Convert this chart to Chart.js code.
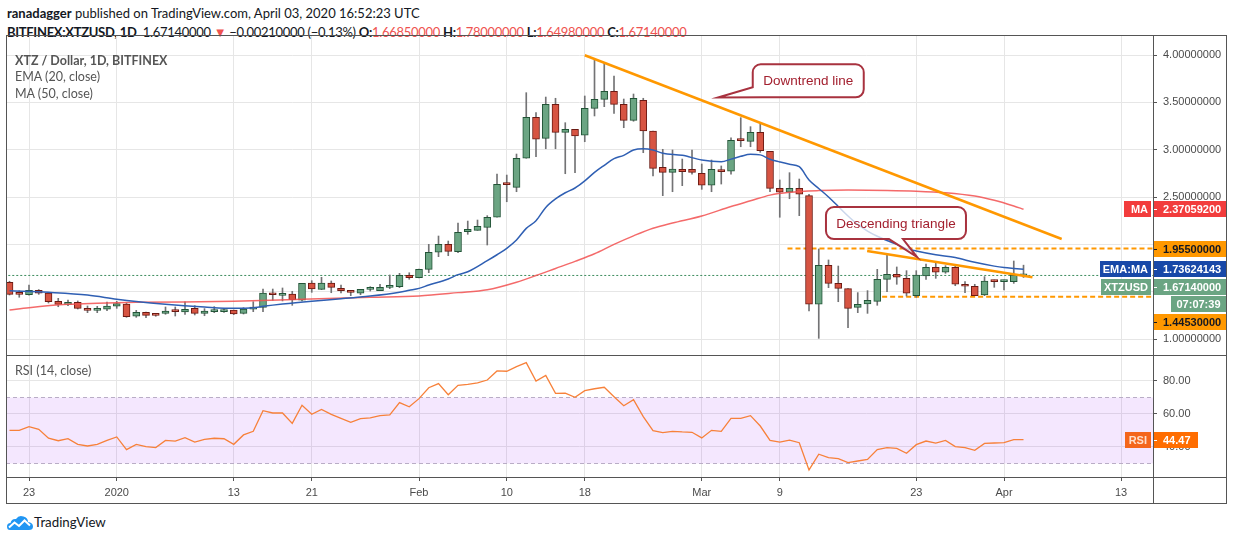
<!DOCTYPE html>
<html>
<head>
<meta charset="utf-8">
<script src="https://cdn.jsdelivr.net/npm/chart.js@4.4.0/dist/chart.umd.min.js"></script>
<style>
body { margin:0; width:1234px; height:541px; background:#fff; position:relative; overflow:hidden; font-family:Lato, "Liberation Sans", sans-serif; }
.abs { position:absolute; }
.hdr { position:absolute; left:7px; font-size:13px; color:#131722; white-space:nowrap; }
.red { color:#ef5350; }
.leg { position:absolute; left:15px; font-size:12.5px; color:#555; white-space:nowrap; }
.ln { position:absolute; background:#555; }
</style>
</head>
<body>
<div class="hdr" style="top:5px"><b>ranadagger</b> published on TradingView.com, April 03, 2020 16:52:23 UTC</div>
<div class="hdr" style="top:24px;letter-spacing:-0.3px"><b>BITFINEX:XTZUSD, 1D</b>&nbsp; 1.67140000 <span class="red">▼</span> −0.00210000 (−0.13%) <b>O:</b><span class="red">1.66850000</span> <b>H:</b><span class="red">1.78000000</span> <b>L:</b><span class="red">1.64980000</span> <b>C:</b><span class="red">1.67140000</span></div>

<canvas id="main" class="abs" width="1221" height="320" style="left:6px;top:35px"></canvas>
<canvas id="rsi" class="abs" width="1221" height="149" style="left:6px;top:355px"></canvas>

<div class="leg" style="top:53px;font-weight:bold">XTZ / Dollar, 1D, BITFINEX</div>
<div class="leg" style="top:69px">EMA (20, close)</div>
<div class="leg" style="top:86px">MA (50, close)</div>
<div class="leg" style="top:363px">RSI (14, close)</div>

<div class="ln" style="left:6px;top:35px;width:1221px;height:1px"></div>
<div class="ln" style="left:6px;top:355px;width:1221px;height:1px"></div>
<div class="ln" style="left:6px;top:477px;width:1221px;height:1px"></div>
<div class="ln" style="left:6px;top:503px;width:1221px;height:1px"></div>
<div class="ln" style="left:6px;top:35px;width:1px;height:469px"></div>
<div class="ln" style="left:1153px;top:35px;width:1px;height:469px"></div>
<div class="ln" style="left:1226px;top:35px;width:1px;height:469px"></div>

<svg class="abs" style="left:7px;top:514px" width="26" height="17" viewBox="0 0 26 17">
  <path d="M3 16 Q0 16 0 12.5 Q0 9 3.5 9 Q4.5 4.5 9 5 Q12 0.5 16.5 2.5 Q21 3.5 21 8 Q26 8.5 26 12.5 Q26 16 22 16 Z" fill="#2196f3"/>
  <polyline points="2,13.5 7.5,8.5 12,12 17.5,6.5 23,11.5" fill="none" stroke="#fff" stroke-width="2"/>
</svg>
<div class="hdr" style="left:34px;top:514px;font-size:13.3px">TradingView</div>

<script>
// daily candles, BITFINEX:XTZUSD
const dates = [
  '2019-12-21','2019-12-22','2019-12-23','2019-12-24','2019-12-25','2019-12-26','2019-12-27','2019-12-28','2019-12-29','2019-12-30','2019-12-31',
  '2020-01-01','2020-01-02','2020-01-03','2020-01-04','2020-01-05','2020-01-06','2020-01-07','2020-01-08','2020-01-09','2020-01-10',
  '2020-01-11','2020-01-12','2020-01-13','2020-01-14','2020-01-15','2020-01-16','2020-01-17','2020-01-18','2020-01-19','2020-01-20',
  '2020-01-21','2020-01-22','2020-01-23','2020-01-24','2020-01-25','2020-01-26','2020-01-27','2020-01-28','2020-01-29','2020-01-30','2020-01-31',
  '2020-02-01','2020-02-02','2020-02-03','2020-02-04','2020-02-05','2020-02-06','2020-02-07','2020-02-08','2020-02-09','2020-02-10',
  '2020-02-11','2020-02-12','2020-02-13','2020-02-14','2020-02-15','2020-02-16','2020-02-17','2020-02-18','2020-02-19','2020-02-20',
  '2020-02-21','2020-02-22','2020-02-23','2020-02-24','2020-02-25','2020-02-26','2020-02-27','2020-02-28','2020-02-29',
  '2020-03-01','2020-03-02','2020-03-03','2020-03-04','2020-03-05','2020-03-06','2020-03-07','2020-03-08','2020-03-09','2020-03-10',
  '2020-03-11','2020-03-12','2020-03-13','2020-03-14','2020-03-15','2020-03-16','2020-03-17','2020-03-18','2020-03-19','2020-03-20',
  '2020-03-21','2020-03-22','2020-03-23','2020-03-24','2020-03-25','2020-03-26','2020-03-27','2020-03-28','2020-03-29','2020-03-30','2020-03-31',
  '2020-04-01','2020-04-02','2020-04-03'
];
const opens = [
  1.599,1.486,1.468,1.515,1.486,1.398,1.366,1.387,1.324,1.303,1.314,
  1.346,1.370,1.240,1.282,1.257,1.271,1.296,1.285,1.324,1.271,1.289,1.289,1.306,1.271,1.314,1.335,1.486,1.461,1.475,1.409,
  1.592,1.525,1.592,1.535,1.507,1.483,1.525,1.511,1.546,1.553,1.673,
  1.648,1.736,1.916,2.000,1.923,2.134,2.148,2.180,2.286,2.645,2.602,2.909,3.342,3.120,3.479,3.183,3.215,3.152,3.437,3.532,
  3.617,3.479,3.310,3.521,3.197,2.814,2.761,2.793,2.793,
  2.750,2.624,2.782,2.772,3.110,3.088,3.183,2.983,2.592,2.550,2.592,2.514,1.367,1.779,1.588,1.532,1.335,1.370,1.398,1.630,
  1.683,1.641,1.458,1.666,1.757,1.705,1.757,1.578,1.557,1.465,1.623,
  1.606,1.606,1.6685
];
const highs = [
  1.610,1.510,1.570,1.522,1.493,1.430,1.412,1.402,1.349,1.345,1.391,
  1.398,1.380,1.303,1.285,1.268,1.338,1.338,1.394,1.352,1.321,1.342,1.321,1.306,1.331,1.394,1.528,1.528,1.539,1.504,1.589,
  1.616,1.652,1.613,1.570,1.507,1.525,1.553,1.578,1.676,1.694,1.700,
  1.740,2.000,2.088,2.035,2.225,2.246,2.257,2.303,2.743,2.732,2.954,3.602,3.391,3.556,3.543,3.285,3.215,3.567,3.947,3.912,
  3.778,3.535,3.588,3.543,3.197,3.004,2.997,2.901,2.997,
  2.849,2.891,2.828,3.126,3.338,3.243,3.271,2.983,2.680,2.757,2.690,2.529,1.951,1.835,1.771,1.532,1.490,1.511,1.736,1.887,
  1.761,1.722,1.722,1.792,1.800,1.775,1.775,1.606,1.578,1.659,1.623,
  1.623,1.824,1.780
];
const lows = [
  1.465,1.441,1.462,1.472,1.380,1.341,1.352,1.317,1.278,1.278,1.299,
  1.324,1.229,1.229,1.225,1.240,1.261,1.243,1.261,1.254,1.246,1.278,1.282,1.257,1.264,1.289,1.289,1.409,1.402,1.356,1.402,
  1.493,1.521,1.489,1.486,1.458,1.468,1.507,1.511,1.532,1.542,1.631,
  1.645,1.701,1.870,1.880,1.912,2.106,2.148,1.993,2.286,2.450,2.556,2.909,2.926,3.010,3.010,2.746,2.757,3.084,3.356,3.454,
  3.384,3.232,3.300,2.968,2.722,2.514,2.556,2.620,2.740,
  2.581,2.556,2.637,2.740,3.031,3.031,2.972,2.556,2.286,2.482,2.303,1.296,1.007,1.542,1.394,1.120,1.278,1.271,1.356,1.500,
  1.578,1.454,1.441,1.630,1.641,1.694,1.563,1.489,1.458,1.458,1.546,
  1.518,1.588,1.6498
];
const closes = [
  1.472,1.472,1.515,1.483,1.394,1.366,1.387,1.324,1.303,1.324,1.349,
  1.373,1.236,1.282,1.250,1.250,1.296,1.289,1.314,1.271,1.296,1.306,1.306,1.264,1.317,1.338,1.486,1.468,1.475,1.415,1.589,
  1.528,1.592,1.546,1.511,1.493,1.525,1.528,1.546,1.560,1.673,1.648,
  1.736,1.916,2.000,1.926,2.127,2.159,2.190,2.286,2.634,2.630,2.909,3.342,3.110,3.479,3.183,3.215,3.144,3.437,3.532,3.617,
  3.479,3.310,3.543,3.197,2.803,2.761,2.796,2.768,2.761,
  2.624,2.793,2.768,3.099,3.095,3.183,2.989,2.592,2.550,2.592,2.529,1.367,1.779,1.588,1.535,1.324,1.367,1.409,1.630,1.683,
  1.652,1.483,1.676,1.757,1.705,1.757,1.578,1.557,1.458,1.613,1.606,
  1.623,1.676,1.6714
];

// EMA (20)
const emaDates = [
  '2019-12-21','2019-12-25','2019-12-29','2020-01-01','2020-01-03','2020-01-06','2020-01-10','2020-01-13','2020-01-15','2020-01-16',
  '2020-01-18','2020-01-21','2020-01-24','2020-01-27','2020-01-30','2020-01-31','2020-02-01','2020-02-02','2020-02-04','2020-02-05',
  '2020-02-06','2020-02-08','2020-02-09','2020-02-10','2020-02-11','2020-02-12','2020-02-13','2020-02-14','2020-02-15','2020-02-16',
  '2020-02-17','2020-02-18','2020-02-19','2020-02-20','2020-02-21','2020-02-22','2020-02-23','2020-02-24','2020-02-25','2020-02-26',
  '2020-02-28','2020-03-01','2020-03-03','2020-03-04','2020-03-05','2020-03-06','2020-03-07','2020-03-08','2020-03-09','2020-03-10',
  '2020-03-11','2020-03-12','2020-03-13','2020-03-14','2020-03-15','2020-03-16','2020-03-17','2020-03-18','2020-03-19','2020-03-20',
  '2020-03-21','2020-03-22','2020-03-23','2020-03-25','2020-03-27','2020-03-29','2020-03-31','2020-04-01','2020-04-02','2020-04-03'
];
const emaValues = [
  1.510,1.493,1.465,1.420,1.395,1.366,1.338,1.324,1.330,1.345,
  1.370,1.400,1.425,1.454,1.495,1.515,1.535,1.570,1.634,1.680,
  1.710,1.827,1.890,1.958,2.046,2.169,2.250,2.390,2.480,2.545,
  2.595,2.670,2.760,2.835,2.905,2.940,2.997,3.010,2.997,2.962,
  2.940,2.891,2.873,2.900,2.930,2.951,2.945,2.898,2.870,2.845,
  2.820,2.680,2.590,2.500,2.400,2.300,2.210,2.140,2.085,2.040,
  2.000,1.955,1.930,1.890,1.860,1.810,1.770,1.755,1.745,1.73624143
];

// MA (50)
const maDates = [
  '2019-12-21','2019-12-23','2019-12-27','2019-12-30','2020-01-03','2020-01-13','2020-01-20','2020-01-27','2020-02-01','2020-02-05',
  '2020-02-08','2020-02-11','2020-02-13','2020-02-15','2020-02-17','2020-02-19','2020-02-21','2020-02-23','2020-02-25','2020-02-27',
  '2020-03-01','2020-03-04','2020-03-06','2020-03-08','2020-03-10','2020-03-13','2020-03-16','2020-03-20','2020-03-23','2020-03-26',
  '2020-03-29','2020-03-31','2020-04-02','2020-04-03'
];
const maValues = [
  1.306,1.331,1.366,1.377,1.387,1.398,1.419,1.440,1.455,1.490,
  1.520,1.600,1.670,1.745,1.820,1.900,2.000,2.090,2.170,2.225,
  2.300,2.400,2.460,2.520,2.550,2.568,2.574,2.570,2.562,2.545,
  2.510,2.465,2.405,2.370592
];

// RSI (14), one value per candle
const rsiValues = [
  50.1,50.1,52.3,50.7,45.3,43.8,45.0,41.6,40.6,41.6,44.0,
  46.1,38.4,41.6,40.2,39.6,44.0,43.6,45.7,43.0,44.6,45.3,45.0,41.6,47.3,49.5,62.0,60.6,60.6,54.3,65.3,
  59.8,62.8,59.8,57.4,55.0,57.2,57.6,59.0,59.4,66.9,64.4,
  69.3,75.9,78.4,71.7,77.4,78.0,78.8,80.6,86.1,85.9,88.7,91.1,80.0,83.4,72.5,72.7,70.1,74.1,75.3,76.2,
  70.5,65.0,68.7,58.4,49.9,48.7,49.5,49.1,48.9,
  45.5,50.1,49.5,57.4,57.4,59.0,52.7,44.0,43.0,44.2,42.6,26.1,35.6,33.5,32.9,30.5,31.5,32.5,38.4,39.6,
  39.2,36.2,41.4,43.6,42.4,44.0,40.2,39.6,38.0,42.2,42.4,
  42.6,44.4,44.47
];

const tickDates = ['2019-12-23','2020-01-01','2020-01-13','2020-01-21','2020-02-01','2020-02-10','2020-02-18','2020-03-01','2020-03-09','2020-03-23','2020-04-01','2020-04-13'];
const tickLabels = ['23','2020','13','21','Feb','10','18','Mar','9','23','Apr','13'];
const priceTicks = [1, 1.5, 2, 2.5, 3, 3.5, 4];
const rsiTicks = [40, 60, 80];

// drawn levels / trend lines
const resistance = 1.955;
const support = 1.4453;
const downtrendDates = ['2020-02-18T00:00:00Z', '2020-04-06T22:00:00Z'];
const downtrendPrices = [3.997, 2.056];
const triangleDates = ['2020-03-17T23:00:00Z', '2020-04-03T22:00:00Z'];
const trianglePrices = [1.930, 1.652];
const resistanceFrom = '2020-03-09T19:00:00Z';
const supportFrom = '2020-03-19T12:00:00Z';
const countdown = '07:07:39';

/////////////////////////////////////////////////////////////////
const DAY0 = Date.parse('2019-12-23T00:00:00Z');
function dayNum(s) {
  return (Date.parse(s.length === 10 ? s + 'T00:00:00Z' : s) - DAY0) / 86400000;
}
const X = dates.map(dayNum);
const xMin = -2.359, xMax = 115.28;
const xEnd = '2020-04-25';

Chart.defaults.font.family = '"Liberation Sans", Arial, sans-serif';
Chart.defaults.font.size = 11;
Chart.defaults.color = '#4a4a4a';

const upFill = '#6ba583', upLine = '#225437';
const dnFill = '#d75442', dnLine = '#6b1a13';
const isUp = closes.map((c, i) => c >= opens[i]);

// no extra label padding around the plot area
function noPad(s) {
  s.paddingTop = 0; s.paddingBottom = 0; s.paddingLeft = 0; s.paddingRight = 0;
}

function xScale(showLabels) {
  return {
    type: 'linear', min: xMin, max: xMax, offset: false,
    afterBuildTicks: s => { s.ticks = tickDates.map(d => ({ value: dayNum(d) })); },
    afterFit: s => { s.height = showLabels ? 27 : 0; noPad(s); },
    grid: { color: '#e6e6e6', drawTicks: showLabels, tickLength: 4, tickColor: '#555', offset: false },
    border: { display: false },
    ticks: { display: showLabels, autoSkip: false, maxRotation: 0, padding: 5,
             callback: (v, i) => tickLabels[i] }
  };
}

function pts(ds, vs) { return ds.map((d, i) => ({ x: dayNum(d), y: vs[i] })); }

/////////////////////////////////////////////////////////////////
// callouts and price-axis labels
const overlayMain = {
  id: 'overlayMain',
  afterDraw(chart) {
    const ctx = chart.ctx, xs = chart.scales.x, ys = chart.scales.y, area = chart.chartArea;
    ctx.save();

    const callouts = [
      { text: 'Downtrend line', at: '2020-03-06T05:30:00Z', top: 3.902, w: 111, h: 33,
        tipAt: '2020-03-02T16:00:00Z', tip: 3.551, side: 'left' },
      { text: 'Descending triangle', at: '2020-03-13T17:45:00Z', top: 2.394, w: 140, h: 32,
        tipAt: '2020-03-23T02:00:00Z', tip: 1.866, side: 'bottom', b1: 63, b2: 77 }
    ];
    callouts.forEach(c => {
      const L = xs.getPixelForValue(dayNum(c.at)), T = ys.getPixelForValue(c.top);
      const R = L + c.w, B = T + c.h, r = 8;
      const tx = xs.getPixelForValue(dayNum(c.tipAt)), ty = ys.getPixelForValue(c.tip);
      ctx.beginPath();
      ctx.moveTo(L + r, T);
      ctx.lineTo(R - r, T); ctx.arcTo(R, T, R, T + r, r);
      ctx.lineTo(R, B - r); ctx.arcTo(R, B, R - r, B, r);
      if (c.side === 'bottom') {
        ctx.lineTo(L + c.b2, B); ctx.lineTo(tx, ty); ctx.lineTo(L + c.b1, B);
        ctx.lineTo(L + r, B); ctx.arcTo(L, B, L, B - r, r);
      } else {
        ctx.lineTo(L + 10, B); ctx.lineTo(tx, ty); ctx.lineTo(L, B - 10);
      }
      ctx.lineTo(L, T + r); ctx.arcTo(L, T, L + r, T, r);
      ctx.closePath();
      ctx.fillStyle = 'rgba(255,255,255,0.75)';
      ctx.fill();
      ctx.lineWidth = 2;
      ctx.strokeStyle = '#a8323f';
      ctx.stroke();
      ctx.fillStyle = '#a3202f';
      ctx.font = '13.5px "Liberation Sans", Arial, sans-serif';
      ctx.textAlign = 'center';
      ctx.textBaseline = 'middle';
      ctx.fillText(c.text, L + c.w / 2, T + c.h / 2 + 1);
    });

    const items = [
      { v: maValues[maValues.length - 1], fill: '#f23c3c', color: '#fff', tag: 'MA', tagW: 27 },
      { v: resistance, fill: '#ff9800', color: '#131722' },
      { v: emaValues[emaValues.length - 1], fill: '#1848a8', color: '#fff', tag: 'EMA:MA', tagW: 51 },
      { v: closes[closes.length - 1], fill: '#6ba583', color: '#fff', tag: 'XTZUSD', tagW: 50 },
      { timer: countdown, fill: '#6ba583', color: '#fff' },
      { v: support, fill: '#ff9800', color: '#131722' }
    ];
    let prev = -1e9;
    items.forEach(it => {
      const nat = it.timer ? prev + 17.5 : ys.getPixelForValue(it.v);
      const c = Math.max(nat, prev + 17.5);
      prev = c;
      const top = Math.round(c - 8);
      ctx.font = 'bold 11px "Liberation Sans", Arial, sans-serif';
      ctx.textBaseline = 'middle';
      if (it.timer) {
        ctx.fillStyle = it.fill;
        ctx.fillRect(area.right + 18, top, 55, 16);
        ctx.fillStyle = it.color;
        ctx.textAlign = 'center';
        ctx.fillText(it.timer, area.right + 45.5, top + 8.5);
        return;
      }
      ctx.fillStyle = it.fill;
      ctx.fillRect(area.right, top, 73, 16);
      ctx.fillStyle = it.color;
      ctx.fillRect(area.right, top + 8, 4, 1);
      ctx.textAlign = 'left';
      ctx.fillText(it.v.toFixed(8), area.right + 10, top + 8.5);
      if (it.tag) {
        ctx.fillStyle = it.fill;
        ctx.fillRect(area.right - 2 - it.tagW, top, it.tagW, 16);
        ctx.fillStyle = it.color;
        ctx.textAlign = 'right';
        ctx.fillText(it.tag, area.right - 5, top + 8.5);
      }
    });
    ctx.restore();
  }
};

// tick labels that sit under the level labels are left out, as on the original
const coveredPriceLabels = [1.5, 2];

new Chart(document.getElementById('main'), {
  type: 'bar',
  data: {
    datasets: [
      { type: 'line', data: [{ x: xMin - 1, y: closes[closes.length - 1] }, { x: dayNum(xEnd), y: closes[closes.length - 1] }],
        borderColor: '#3d8c5e', borderWidth: 1, borderDash: [2, 2], pointRadius: 0, order: 6 },
      { type: 'line', data: [{ x: dayNum(resistanceFrom), y: resistance }, { x: dayNum(xEnd), y: resistance }],
        borderColor: '#ff9800', borderWidth: 2, borderDash: [5, 3], pointRadius: 0, order: 5 },
      { type: 'line', data: [{ x: dayNum(supportFrom), y: support }, { x: dayNum(xEnd), y: support }],
        borderColor: '#ff9800', borderWidth: 2, borderDash: [5, 3], pointRadius: 0, order: 5 },
      { type: 'bar', data: X.map((x, i) => ({ x, y: [lows[i], highs[i]] })),
        backgroundColor: '#737375', borderWidth: 0, barThickness: 1, grouped: false, order: 4 },
      { type: 'bar', data: X.map((x, i) => ({ x, y: [opens[i], closes[i]] })),
        backgroundColor: isUp.map(u => u ? upFill : dnFill),
        borderColor: isUp.map(u => u ? upLine : dnLine),
        borderWidth: 1, borderSkipped: false, barThickness: 7, minBarLength: 2, grouped: false, order: 3 },
      { type: 'line', data: pts(maDates, maValues), borderColor: 'rgba(242,80,80,0.85)', borderWidth: 1.5,
        pointRadius: 0, cubicInterpolationMode: 'monotone', order: 2 },
      { type: 'line', data: pts(emaDates, emaValues), borderColor: '#2f5fb3', borderWidth: 1.5,
        pointRadius: 0, cubicInterpolationMode: 'monotone', order: 1 },
      { type: 'line', data: pts(downtrendDates, downtrendPrices), borderColor: '#ff9800', borderWidth: 2.5,
        pointRadius: 0, order: 0 },
      { type: 'line', data: pts(triangleDates, trianglePrices), borderColor: '#ff9800', borderWidth: 2.5,
        pointRadius: 0, order: 0 }
    ]
  },
  options: {
    responsive: false, animation: false, events: [],
    layout: { padding: 0, autoPadding: false },
    plugins: { legend: { display: false }, tooltip: { enabled: false } },
    scales: {
      x: xScale(false),
      y: {
        position: 'right', min: 0.8311, max: 4.2113,
        afterBuildTicks: s => { s.ticks = priceTicks.map(v => ({ value: v })); },
        afterFit: s => { s.width = 74; noPad(s); },
        grid: { color: '#e6e6e6', tickLength: 4, tickColor: '#555' },
        border: { display: false },
        ticks: { padding: 6, callback: v => coveredPriceLabels.includes(v) ? '' : v.toFixed(8) }
      }
    }
  },
  plugins: [overlayMain]
});

/////////////////////////////////////////////////////////////////
const overlayRsi = {
  id: 'overlayRsi',
  beforeDatasetsDraw(chart) {
    const ctx = chart.ctx, ys = chart.scales.y, a = chart.chartArea;
    const y70 = ys.getPixelForValue(70), y30 = ys.getPixelForValue(30);
    ctx.save();
    ctx.fillStyle = 'rgba(156,39,246,0.11)';
    ctx.fillRect(a.left, y70, a.right - a.left, y30 - y70);
    ctx.strokeStyle = '#b9adc6';
    ctx.lineWidth = 1;
    ctx.setLineDash([4, 3]);
    [y70, y30].forEach(y => {
      ctx.beginPath();
      ctx.moveTo(a.left, Math.round(y) + 0.5);
      ctx.lineTo(a.right, Math.round(y) + 0.5);
      ctx.stroke();
    });
    ctx.restore();
  },
  afterDraw(chart) {
    const ctx = chart.ctx, ys = chart.scales.y, a = chart.chartArea;
    const v = rsiValues[rsiValues.length - 1];
    const top = Math.round(ys.getPixelForValue(v) - 8);
    ctx.save();
    ctx.fillStyle = '#ff6d00';
    ctx.fillRect(a.right, top, 45, 16);
    ctx.fillStyle = '#f4661b';
    ctx.fillRect(a.right - 28, top, 26, 16);
    ctx.fillStyle = '#fff';
    ctx.fillRect(a.right, top + 8, 4, 1);
    ctx.font = 'bold 11px "Liberation Sans", Arial, sans-serif';
    ctx.textBaseline = 'middle';
    ctx.textAlign = 'left';
    ctx.fillText(v.toFixed(2), a.right + 10, top + 8.5);
    ctx.textAlign = 'right';
    ctx.fillStyle = '#ffe0cc';
    ctx.fillText('RSI', a.right - 6, top + 8.5);
    ctx.restore();
  }
};

new Chart(document.getElementById('rsi'), {
  type: 'line',
  data: {
    datasets: [{ data: X.map((x, i) => ({ x, y: rsiValues[i] })), borderColor: '#f7813a', borderWidth: 1.3,
      pointRadius: 0, tension: 0 }]
  },
  options: {
    responsive: false, animation: false, events: [],
    layout: { padding: 0, autoPadding: false },
    plugins: { legend: { display: false }, tooltip: { enabled: false } },
    scales: {
      x: xScale(true),
      y: {
        position: 'right', min: 21.8, max: 95.76,
        afterBuildTicks: s => { s.ticks = rsiTicks.map(v => ({ value: v })); },
        afterFit: s => { s.width = 74; noPad(s); },
        grid: { color: '#e6e6e6', tickLength: 4, tickColor: '#555' },
        border: { display: false },
        ticks: { padding: 6, callback: v => v.toFixed(2) }
      }
    }
  },
  plugins: [overlayRsi]
});
</script>
</body>
</html>
